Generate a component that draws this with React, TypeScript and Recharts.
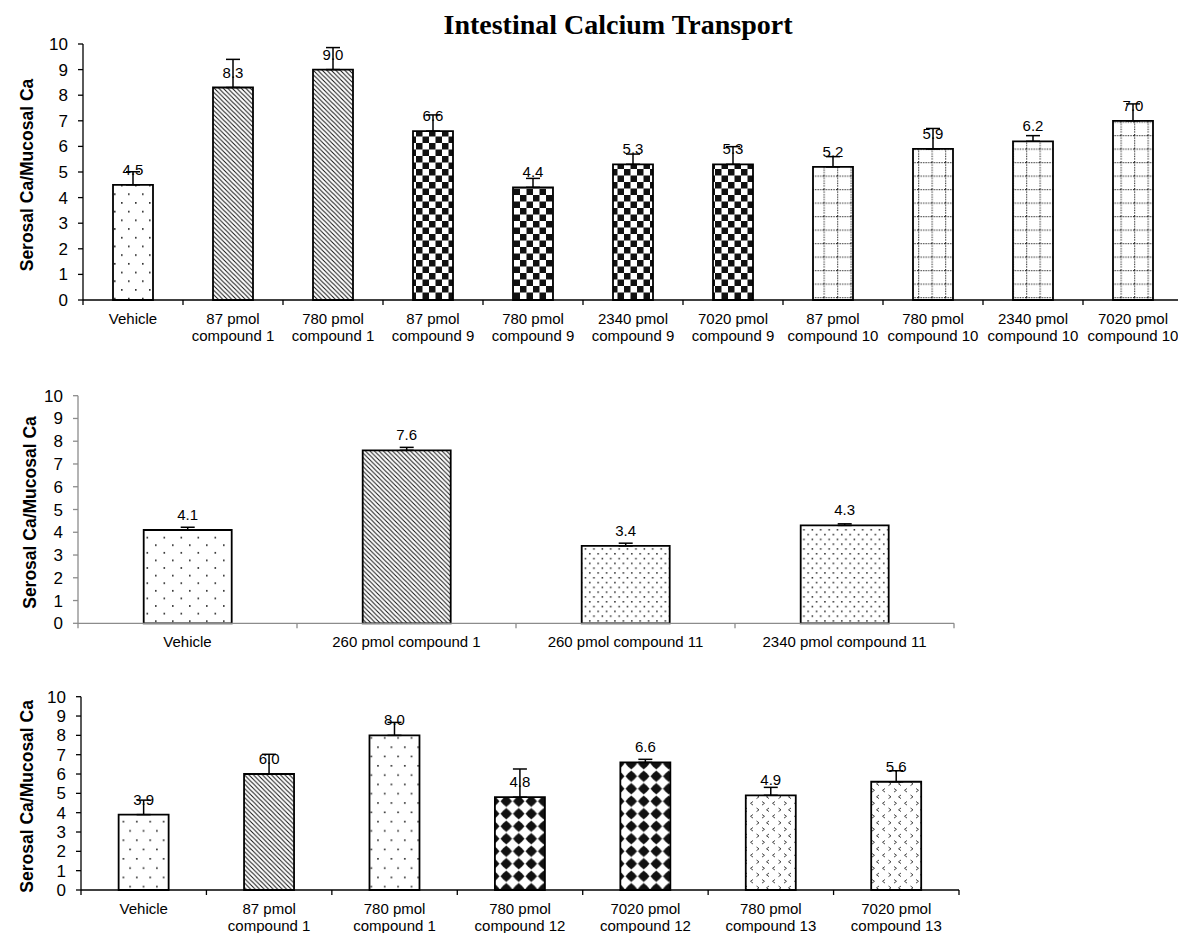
import React from "react";
import { BarChart, Bar, XAxis, YAxis, Cell, ErrorBar, LabelList } from "recharts";

// ---- data ----
const Y_TICKS = [0, 1, 2, 3, 4, 5, 6, 7, 8, 9, 10];

const TOP_CATEGORIES = [
  "Vehicle",
  "87 pmol\ncompound 1",
  "780 pmol\ncompound 1",
  "87 pmol\ncompound 9",
  "780 pmol\ncompound 9",
  "2340 pmol\ncompound 9",
  "7020 pmol\ncompound 9",
  "87 pmol\ncompound 10",
  "780 pmol\ncompound 10",
  "2340 pmol\ncompound 10",
  "7020 pmol\ncompound 10",
];
const TOP_VALUES = [4.5, 8.3, 9.0, 6.6, 4.4, 5.3, 5.3, 5.2, 5.9, 6.2, 7.0];
const TOP_ERRORS = [0.51, 1.1, 0.86, 0.63, 0.35, 0.4, 0.69, 0.4, 0.8, 0.22, 0.66];

const MID_CATEGORIES = [
  "Vehicle",
  "260 pmol compound 1",
  "260 pmol compound 11",
  "2340 pmol compound 11",
];
const MID_VALUES = [4.1, 7.6, 3.4, 4.3];
const MID_ERRORS = [0.12, 0.13, 0.12, 0.07];

const BOTTOM_CATEGORIES = [
  "Vehicle",
  "87 pmol\ncompound 1",
  "780 pmol\ncompound 1",
  "780 pmol\ncompound 12",
  "7020 pmol\ncompound 12",
  "780 pmol\ncompound 13",
  "7020 pmol\ncompound 13",
];
const BOTTOM_VALUES = [3.9, 6.0, 8.0, 4.8, 6.6, 4.9, 5.6];
const BOTTOM_ERRORS = [0.75, 1.02, 0.67, 1.46, 0.16, 0.41, 0.57];

// ---- fill patterns per bar ----
const TOP_PATTERNS = ["dots-a", "diag", "diag", "checker", "checker", "checker", "checker", "grid", "grid", "grid", "grid"];
const MID_PATTERNS = ["dots-b", "diag", "dots-dense", "dots-dense"];
const BOTTOM_PATTERNS = ["dots-c", "diag", "dots-c", "diamonds", "diamonds", "chevrons", "chevrons"];

const FONT = '"Liberation Sans", Arial, Helvetica, sans-serif';

function Patterns() {
  return (
    <svg width={0} height={0} style={{ position: "absolute" }} aria-hidden="true">
      <defs>
        <pattern id="dots-a" patternUnits="userSpaceOnUse" width={14} height={17.4}>
          <rect width={14} height={17.4} fill="#fff" />
          <rect x={2} y={2} width={1.6} height={1.6} fill="#222" />
          <rect x={9} y={10.7} width={1.6} height={1.6} fill="#222" />
        </pattern>
        <pattern id="dots-b" patternUnits="userSpaceOnUse" width={17} height={15.2}>
          <rect width={17} height={15.2} fill="#fff" />
          <rect x={2} y={2} width={1.6} height={1.6} fill="#222" />
          <rect x={10.5} y={9.6} width={1.6} height={1.6} fill="#222" />
        </pattern>
        <pattern id="dots-c" patternUnits="userSpaceOnUse" width={13.4} height={18.6}>
          <rect width={13.4} height={18.6} fill="#fff" />
          <rect x={2} y={2} width={1.6} height={1.6} fill="#222" />
          <rect x={8.7} y={11.3} width={1.6} height={1.6} fill="#222" />
        </pattern>
        <pattern id="dots-dense" patternUnits="userSpaceOnUse" width={8.4} height={9.6}>
          <rect width={8.4} height={9.6} fill="#fff" />
          <rect x={1} y={1} width={1.5} height={1.5} fill="#222" />
          <rect x={5.2} y={5.8} width={1.5} height={1.5} fill="#222" />
        </pattern>
        <pattern id="diag" patternUnits="userSpaceOnUse" width={4.5} height={4.5}>
          <rect width={4.5} height={4.5} fill="#fff" />
          <path d="M0,0 L4.5,4.5 M-1,3.5 L1,5.5 M3.5,-1 L5.5,1" stroke="#111" strokeWidth={1} />
        </pattern>
        <pattern id="checker" patternUnits="userSpaceOnUse" width={13} height={13}>
          <rect width={13} height={13} fill="#fff" />
          <rect x={0} y={0} width={6.5} height={6.5} fill="#111" />
          <rect x={6.5} y={6.5} width={6.5} height={6.5} fill="#111" />
        </pattern>
        <pattern id="grid" patternUnits="userSpaceOnUse" width={13.5} height={13.5}>
          <rect width={13.5} height={13.5} fill="#fff" />
          <line x1={0} y1={0.6} x2={13.5} y2={0.6} stroke="#333" strokeWidth={1.2} strokeDasharray="1.2 1.3" />
          <line x1={0.6} y1={0} x2={0.6} y2={13.5} stroke="#333" strokeWidth={1.2} strokeDasharray="1.2 1.3" />
        </pattern>
        <pattern id="diamonds" patternUnits="userSpaceOnUse" width={12.5} height={12.5}>
          <rect width={12.5} height={12.5} fill="#fff" />
          <path d="M6.25,0.4 L12.1,6.25 L6.25,12.1 L0.4,6.25Z" fill="#111" />
          <circle cx={6.25} cy={6.25} r={4.2} fill="#111" />
        </pattern>
        <pattern id="chevrons" patternUnits="userSpaceOnUse" width={22} height={13}>
          <rect width={22} height={13} fill="#fff" />
          <path
            d="M5,1.5 L2.5,3.3 L5,5.1 M14,1.5 L16.5,3.3 L14,5.1 M8.5,8 L11,9.8 L8.5,11.6 M21,8 L18.5,9.8 L21,11.6"
            stroke="#333"
            strokeWidth={0.9}
            fill="none"
          />
        </pattern>
      </defs>
    </svg>
  );
}

// category label with a boundary tick on its left (and right for the last one)
function CategoryTick(props: any) {
  const { x, y, payload, index, count, bandHalf, color } = props;
  const half = payload && payload.offset ? payload.offset : bandHalf;
  const lines = String(payload.value).split("\n");
  return (
    <g>
      <line x1={x - half} x2={x - half} y1={y} y2={y + 5} stroke={color} strokeWidth={1.3} />
      {index === count - 1 && (
        <line x1={x + half} x2={x + half} y1={y} y2={y + 5} stroke={color} strokeWidth={1.3} />
      )}
      <text x={x} y={y + 24} textAnchor="middle" fontSize={15} fontFamily={FONT} fill="#000">
        {lines.map((l, i) => (
          <tspan key={i} x={x} dy={i === 0 ? 0 : 17}>
            {l}
          </tspan>
        ))}
      </text>
    </g>
  );
}

type PanelProps = {
  top: number;
  width: number;
  height: number;
  plotLeft: number;
  plotRight: number;
  plotTop: number;
  plotHeight: number;
  titleX: number;
  axisColor: string;
  categories: string[];
  values: number[];
  errors: number[];
  patterns: string[];
};

function Panel(p: PanelProps) {
  const data = p.categories.map((name, i) => ({
    name,
    value: p.values[i],
    err: [0, p.errors[i]],
  }));
  const bandHalf = (p.width - p.plotLeft - p.plotRight) / p.categories.length / 2;
  const xAxisHeight = p.height - p.plotTop - p.plotHeight;
  const centerY = p.plotTop + p.plotHeight / 2 + 3;

  return (
    <div style={{ position: "absolute", left: 0, top: p.top }}>
      <BarChart
        width={p.width}
        height={p.height}
        data={data}
        margin={{ top: p.plotTop, right: p.plotRight, bottom: 0, left: 0 }}
        barCategoryGap="30%"
      >
        <XAxis
          dataKey="name"
          interval={0}
          height={xAxisHeight}
          tickSize={0}
          tickMargin={0}
          tickLine={false}
          axisLine={{ stroke: p.axisColor, strokeWidth: 1.3 }}
          tick={(t: any) => (
            <CategoryTick {...t} count={p.categories.length} bandHalf={bandHalf} color={p.axisColor} />
          )}
        />
        <YAxis
          type="number"
          domain={[0, 10]}
          ticks={Y_TICKS}
          interval={0}
          width={p.plotLeft}
          tickSize={5}
          tickMargin={10}
          axisLine={{ stroke: p.axisColor, strokeWidth: 1.3 }}
          tickLine={{ stroke: p.axisColor, strokeWidth: 1.3 }}
          tick={{ fontSize: 17, fill: "#000", fontFamily: FONT }}
          label={{
            content: () => (
              <text
                x={p.titleX}
                y={centerY}
                transform={`rotate(-90, ${p.titleX}, ${centerY})`}
                textAnchor="middle"
                dominantBaseline="central"
                fontSize={17.5}
                fontWeight="bold"
                fontFamily={FONT}
                fill="#000"
              >
                Serosal Ca/Mucosal Ca
              </text>
            ),
          }}
        />
        <Bar dataKey="value" stroke="#000" strokeWidth={1.8} isAnimationActive={false}>
          {data.map((d, i) => (
            <Cell key={d.name} fill={`url(#${p.patterns[i]})`} />
          ))}
          <LabelList
            dataKey="value"
            position="top"
            offset={10}
            fontSize={15}
            fontFamily={FONT}
            fill="#000"
            formatter={(v: any) => Number(v).toFixed(1)}
          />
          <ErrorBar dataKey="err" direction="y" width={7} stroke="#000" strokeWidth={1.5} />
        </Bar>
      </BarChart>
    </div>
  );
}

export default function App() {
  return (
    <div
      style={{
        position: "absolute",
        left: 0,
        top: 0,
        width: 1178,
        height: 933,
        overflow: "hidden",
        background: "#fff",
      }}
    >
      <Patterns />
      <div
        style={{
          position: "absolute",
          left: 0,
          top: 10.5,
          width: 1236,
          textAlign: "center",
          fontFamily: '"Liberation Serif", "Times New Roman", serif',
          fontWeight: "bold",
          fontSize: 28,
          lineHeight: "28px",
          color: "#000",
        }}
      >
        Intestinal Calcium Transport
      </div>
      <Panel
        top={0}
        width={1200}
        height={350}
        plotLeft={83}
        plotRight={17}
        plotTop={44}
        plotHeight={256}
        titleX={27}
        axisColor="#000"
        categories={TOP_CATEGORIES}
        values={TOP_VALUES}
        errors={TOP_ERRORS}
        patterns={TOP_PATTERNS}
      />
      <Panel
        top={360}
        width={980}
        height={303}
        plotLeft={78}
        plotRight={26}
        plotTop={35.7}
        plotHeight={227.6}
        titleX={30}
        axisColor="#8c8c8c"
        categories={MID_CATEGORIES}
        values={MID_VALUES}
        errors={MID_ERRORS}
        patterns={MID_PATTERNS}
      />
      <Panel
        top={670}
        width={980}
        height={263}
        plotLeft={81}
        plotRight={21}
        plotTop={26.7}
        plotHeight={193.3}
        titleX={27}
        axisColor="#000"
        categories={BOTTOM_CATEGORIES}
        values={BOTTOM_VALUES}
        errors={BOTTOM_ERRORS}
        patterns={BOTTOM_PATTERNS}
      />
    </div>
  );
}
